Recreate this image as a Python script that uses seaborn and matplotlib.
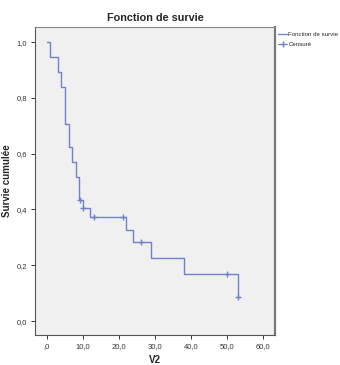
import pandas as pd
import matplotlib
matplotlib.use("Agg")
import matplotlib.pyplot as plt
import seaborn as sns
from matplotlib.lines import Line2D

# --- Data (Kaplan-Meier steps) ---
step_times = [0, 1, 3, 4, 5, 6, 7, 8, 9, 10, 12, 22, 24, 29, 38, 53]
step_surv = [1.0, 0.946, 0.892, 0.839, 0.706, 0.624, 0.569, 0.515, 0.434, 0.406,
             0.372, 0.326, 0.282, 0.225, 0.170, 0.085]
censor_times = [9.3, 10, 13, 21, 26, 50, 53]
censor_surv = [0.434, 0.406, 0.372, 0.372, 0.282, 0.170, 0.085]

x_ticks = [0, 10, 20, 30, 40, 50, 60]
x_labels = [",0", "10,0", "20,0", "30,0", "40,0", "50,0", "60,0"]
y_ticks = [0.0, 0.2, 0.4, 0.6, 0.8, 1.0]
y_labels = ["0,0", "0,2", "0,4", "0,6", "0,8", "1,0"]

LINE_COLOR = "#6f82cc"

sns.set_style("white")
plt.rcParams['font.family'] = ['Liberation Sans', 'DejaVu Sans']

steps = pd.DataFrame({"V2": step_times, "survie": step_surv})
censored = pd.DataFrame({"V2": censor_times, "survie": censor_surv})

fig = plt.figure(figsize=(3.4, 3.65), dpi=100)
ax = fig.add_axes([35 / 340, 1 - 335 / 365, 240 / 340, 308 / 365])
ax.set_facecolor("#f0f0f0")

sns.lineplot(data=steps, x="V2", y="survie", ax=ax, estimator=None,
             drawstyle="steps-post", color=LINE_COLOR, linewidth=1.0)
sns.scatterplot(data=censored, x="V2", y="survie", ax=ax, marker="+",
                color=LINE_COLOR, s=22, linewidth=1.0)

ax.set_xlim(-3.3, 63.3)
ax.set_ylim(-0.05, 1.054)
ax.set_xticks(x_ticks)
ax.set_xticklabels(x_labels)
ax.set_yticks(y_ticks)
ax.set_yticklabels(y_labels)
ax.tick_params(axis="both", direction="out", length=3, width=0.7,
               labelsize=5.5, colors="#333333", pad=2.5, left=True, bottom=True)

for side, sp in ax.spines.items():
    sp.set_color("#555555")
    sp.set_linewidth(0.8)
ax.spines["right"].set_color("#777777")
ax.spines["right"].set_linewidth(1.6)
ax.spines["top"].set_color("#888888")

ax.set_title("Fonction de survie", fontsize=7.8, fontweight="bold", pad=4)
ax.set_xlabel("V2", fontsize=7, fontweight="bold")
ax.set_ylabel("Survie cumulée", fontsize=7, fontweight="bold")
ax.xaxis.set_label_coords(0.5, -0.064)
ax.yaxis.set_label_coords(-0.096, 0.5)

handles = [Line2D([0], [0], color=LINE_COLOR, linewidth=1.0, drawstyle="steps-mid"),
           Line2D([0], [0], color=LINE_COLOR, marker="+", linestyle="-",
                  linewidth=0.8, markersize=5)]
ax.legend(handles, ["Fonction de survie", "Censuré"], loc="upper left",
          bbox_to_anchor=(1.0, 0.995), frameon=False, fontsize=4.4,
          handlelength=1.5, handletextpad=0.2, borderaxespad=0.1,
          labelspacing=0.8)

fig.savefig("out.png", dpi=100)
